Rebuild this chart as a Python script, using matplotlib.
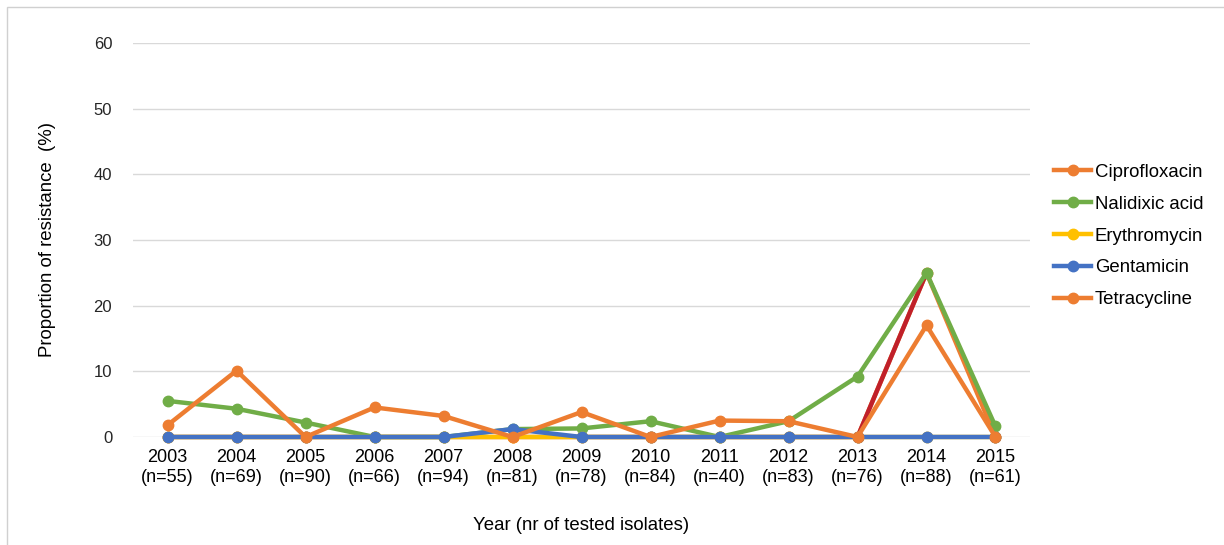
import numpy as np
import matplotlib.pyplot as plt
from matplotlib.patches import Rectangle

plt.rcParams['font.family'] = ['Liberation Sans', 'DejaVu Sans']

years = ['2003', '2004', '2005', '2006', '2007', '2008', '2009',
         '2010', '2011', '2012', '2013', '2014', '2015']
n_isolates = [55, 69, 90, 66, 94, 81, 78, 84, 40, 83, 76, 88, 61]

cipro = [0, 0, 0, 0, 0, 0, 0, 0, 0, 0, 0, 25, 0]
nalidixic = [5.5, 4.3, 2.2, 0, 0, 1.2, 1.3, 2.4, 0, 2.4, 9.2, 25, 1.6]
erythro = [0, 0, 0, 0, 0, 0, 0, 0, 0, 0, 0, 0, 0]
genta = [0, 0, 0, 0, 0, 1.2, 0, 0, 0, 0, 0, 0, 0]
tetra = [1.8, 10.1, 0, 4.5, 3.2, 0, 3.8, 0, 2.5, 2.4, 0, 17, 0]

labels = ['Ciprofloxacin', 'Nalidixic acid', 'Erythromycin', 'Gentamicin', 'Tetracycline']
colors = ['#ED7D31', '#70AD47', '#FFC000', '#4472C4', '#ED7D31']
series = [cipro, nalidixic, erythro, genta, tetra]

fig = plt.figure(figsize=(12.24, 5.45), dpi=100)
ax = fig.add_axes([0.1087, 0.1982, 0.7328, 0.7229])

x = np.arange(len(years))
for i, (vals, lab, col) in enumerate(zip(series, labels, colors)):
    ax.plot(x, vals, color=col, lw=3.2, marker='o', ms=7.5, label=lab, zorder=2 + i)
    if i == 0:
        # highlighted segment 2013-2014
        ax.plot(x[10:12], vals[10:12], color='#C0202A', lw=3.2, zorder=2.5)

ax.set_xlim(-0.5, len(years) - 0.5)
ax.set_ylim(0, 60)
ax.set_yticks(range(0, 61, 10))
ax.yaxis.grid(True, color='#D9D9D9', lw=1)
ax.set_axisbelow(True)
for s in ax.spines.values():
    s.set_visible(False)
ax.tick_params(length=0, labelsize=12, colors='#262626')
ax.tick_params(axis='y', pad=15)
ax.tick_params(axis='x', labelsize=13, colors='black', pad=9)
ax.set_xticks(x)
ax.set_xticklabels([f'{y}\n(n={n})' for y, n in zip(years, n_isolates)], linespacing=1.2)
for ln in ax.lines:
    ln.set_clip_on(False)

ax.set_ylabel('Proportion of resistance  (%)', fontsize=13.4, labelpad=27)
ax.set_xlabel('Year (nr of tested isolates)', fontsize=13.4, labelpad=22)

ax.legend(loc='center left', bbox_to_anchor=(1.008, 0.51), frameon=False,
          fontsize=13.4, handlelength=2.0, labelspacing=0.8, handletextpad=0.2)

fig.add_artist(Rectangle((7 / 1224, -0.01), 1.1, 1 - 7 / 545 + 0.01,
                         transform=fig.transFigure, fill=False,
                         edgecolor='#D0D0D0', lw=1))

fig.savefig('out.png', dpi=100)
